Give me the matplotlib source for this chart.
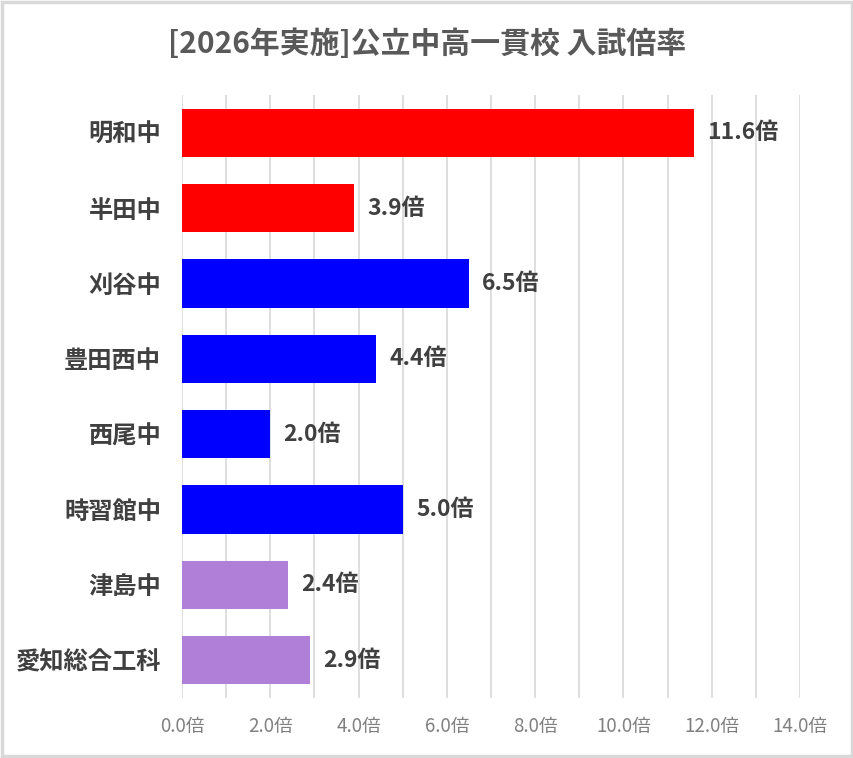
import matplotlib
matplotlib.use('Agg')
import matplotlib.pyplot as plt
from matplotlib.patches import Rectangle

plt.rcParams['font.family'] = ['Noto Sans CJK JP', 'DejaVu Sans']

# data
schools = ['明和中', '半田中', '刈谷中', '豊田西中', '西尾中', '時習館中', '津島中', '愛知総合工科']
ratios = [11.6, 3.9, 6.5, 4.4, 2.0, 5.0, 2.4, 2.9]
bar_colors = ['#FF0000', '#FF0000', '#0000FF', '#0000FF', '#0000FF', '#0000FF', '#B07FD7', '#B07FD7']
title = '[2026年実施]公立中高一貫校 入試倍率'

fig = plt.figure(figsize=(8.54, 7.58), dpi=100)
ax = fig.add_axes([182 / 854, 60 / 758, 618 / 854, 603 / 758])

y = list(range(len(schools)))
ax.barh(y, ratios, height=0.64, color=bar_colors, zorder=3)
ax.set_ylim(len(schools) - 0.5, -0.5)
ax.set_xlim(0, 14)

# vertical grid every 1.0, labels every 2.0
ax.set_xticks(range(0, 15, 2))
ax.set_xticks(range(0, 15), minor=True)
ax.set_xticklabels(['{:.1f}倍'.format(v) for v in range(0, 15, 2)])
ax.grid(axis='x', which='both', color='#D9D9D9', lw=1.2, zorder=0)
ax.tick_params(axis='x', which='both', length=0, labelsize=13.5, labelcolor='#808080', pad=13)

ax.set_yticks(y)
ax.set_yticklabels(schools, fontsize=17.5, fontweight='bold', color='#404040')
ax.tick_params(axis='y', length=0, pad=15)

for s in ax.spines.values():
    s.set_visible(False)

for yi, v in zip(y, ratios):
    ax.text(v + 0.3, yi, '{:.1f}倍'.format(v), va='center', ha='left',
            fontsize=16.5, fontweight='bold', color='#404040')

fig.text(0.5, 1 - 44 / 758, title, ha='center', va='center',
         fontsize=21.5, fontweight='bold', color='#595959')

# light border around the chart
fig.patches.append(Rectangle((0.002, 0.002), 0.996, 0.996, transform=fig.transFigure,
                             fill=False, edgecolor='#D9D9D9', lw=2.5))

fig.savefig('out.png', dpi=100)
